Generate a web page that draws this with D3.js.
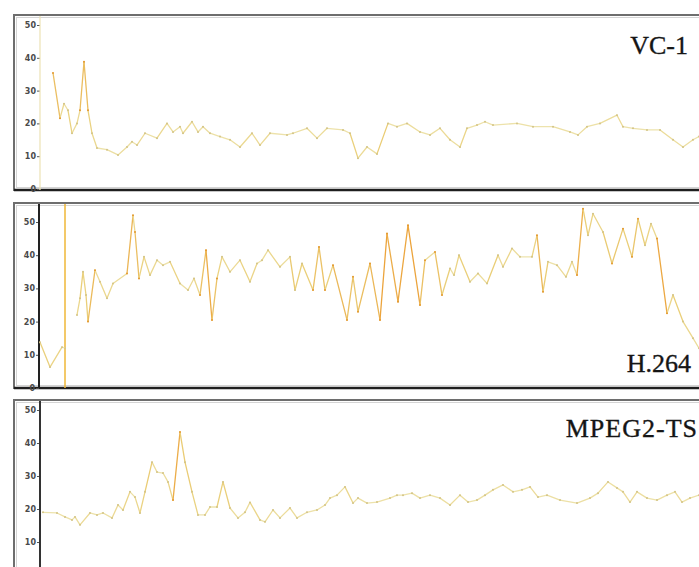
<!DOCTYPE html>
<html>
<head>
<meta charset="utf-8">
<script src="https://cdn.jsdelivr.net/npm/d3@7"></script>
<style>
  body { margin: 0; background: #fff; }
  svg { display: block; }
  .tick text { font-family: "DejaVu Sans", sans-serif; font-size: 8px; font-weight: bold; fill: #4a4a4a; }
  .tick line { stroke: #555; }
  .codec { font-family: "Liberation Serif", serif; font-size: 26px; fill: #151515; stroke: #151515; stroke-width: 0.35; }
</style>
</head>
<body>
<div id="chart"></div>
<script>
// [frame, bitrate]
const vc1 = [
  [13,35.4],[20,21.6],[24,26],[28,24],[32,17],[37,20],[40,24],[44,38.8],[48,24],[52,17],
  [57,12.5],[67,12],[78,10.4],[87,12.8],[92,14.4],[97,13.4],[105,17],[117,15.5],[127,20],[133,17.4],
  [140,19],[143,17],[152,20.5],[158,17.4],[163,19],[170,17],[180,16],[190,15],[200,12.8],[212,17],
  [220,13.4],[230,17],[247,16.5],[253,17],[267,18.5],[277,15.5],[287,18.5],[303,18],[310,17],[318,9.4],
  [327,12.8],[337,10.7],[348,20],[357,19],[367,20],[380,17.4],[390,16.5],[400,18.5],[410,15],[420,12.8],
  [427,18.5],[437,19.5],[445,20.5],[453,19.5],[477,20],[493,19],[513,19],[530,17.4],[538,16.5],[547,19],
  [560,20],[577,22.5],[583,19],[593,18.5],[607,18],[620,18],[633,15],[643,12.8],[653,15],[659,16]
];

const h264Start = [[0,13.8],[10,6.3],[22,12.3],[25,12]];
const h264Marker = 25;
const h264 = [
  [37,22],[40,27],[43,35],[46,28],[48,20],[55,35.5],[60,32],[67,27],[73,31.5],[87,34.5],
  [93,52],[95,47],[99,33],[104,39.5],[110,34],[117,38.5],[123,37],[130,38],[140,31.5],[148,29.5],
  [154,33],[160,28],[166,41.5],[172,20.5],[177,33],[182,39.5],[190,35],[200,38.5],[210,32],[217,37.5],
  [222,38.5],[228,41.5],[240,36.5],[250,39.5],[255,29.5],[262,37.5],[273,29.5],[279,42.5],[285,29.5],[293,37],
  [307,20.5],[313,33.5],[318,23],[330,37.5],[340,20.5],[347,46.5],[358,26],[368,49],[380,25],[385,38.5],
  [395,41],[402,28],[410,36],[414,34],[419,40],[430,32],[438,34.5],[447,31.5],[458,40],[463,36.5],
  [472,42],[480,39.5],[492,39.5],[497,46],[503,29],[508,38],[517,37],[526,33.5],[532,38],[537,34],
  [543,54],[548,46],[553,52.5],[563,47],[572,37.5],[583,48],[592,39.5],[598,51],[605,43],[611,49.5],
  [617,45],[627,22.5],[633,28],[643,20],[653,15],[659,12]
];

const mpeg2ts = [
  [3,19],[17,18.8],[25,17.6],[32,16.7],[35,17.6],[40,15.2],[50,18.8],[57,18.2],[63,18.8],[72,17.3],
  [78,21.2],[83,19.7],[90,25.2],[95,23.6],[100,18.8],[105,25.2],[112,34.2],[117,31.2],[123,30.9],[128,28.2],
  [133,22.7],[140,43.3],[145,34.2],[152,25.2],[158,18.2],[165,18.2],[170,20.6],[177,20.6],[183,28.2],[190,20.3],
  [198,17.3],[205,19],[210,22],[220,16.7],[225,16.1],[233,19.7],[240,17.3],[250,20.3],[257,17.3],[267,19],
  [277,19.7],[285,21.2],[290,23.3],[297,24.2],[305,26.7],[313,21.8],[318,23.3],[327,21.8],[337,22.1],[350,23.3],
  [357,24.2],[363,24.2],[372,24.8],[380,23.3],[390,24.2],[400,23.3],[410,21.2],[420,24.2],[428,22.1],[437,22.7],
  [445,24.2],[453,25.8],[463,27.3],[473,25.2],[482,25.8],[490,26.7],[498,23.6],[507,24.2],[520,22.7],[537,21.8],
  [550,23.3],[558,24.8],[568,28.2],[577,26.4],[583,25.2],[590,22.1],[597,25.2],[607,23.3],[617,22.7],[627,24.2],
  [635,25.2],[642,22.1],[650,23.3],[659,24.2]
];

const yTicks = [0, 10, 20, 30, 40, 50];
const codecs = ["VC-1", "H.264", "MPEG2-TS"];

const width = 699, height = 567;

const svg = d3.select("#chart")
    .append("svg")
    .attr("width", width)
    .attr("height", height);

const x = d3.scaleLinear().domain([0, 660]).range([40, 700]);

const panels = [
    {label: codecs[0], top: 15, bottom: 190, y0: 189, y50: 25, series: [vc1],
     axisColor: "#ece2b4", axisWidth: 1.2, axisX: 40, labelX: 688, labelY: 54, spacing: 0},
    {label: codecs[1], top: 203, bottom: 388, y0: 388, y50: 222, series: [h264Start, h264],
     axisColor: "#222", axisWidth: 2, axisX: 39, labelX: 691, labelY: 372, spacing: 0, marker: h264Marker},
    {label: codecs[2], top: 400, bottom: 586, y0: 575, y50: 410, series: [mpeg2ts],
     axisColor: "#333", axisWidth: 2, axisX: 40, labelX: 698, labelY: 437, spacing: 1}
];

// steeper jumps come out orange, flat stretches pale yellow
const segColor = d3.scaleLinear()
    .domain([0, 8, 24])
    .range(["#ede3ad", "#eacf79", "#eca43c"])
    .clamp(true);

panels.forEach(p => {
    const y = d3.scaleLinear().domain([0, 50]).range([p.y0, p.y50]);
    const g = svg.append("g");

    // frame
    g.append("rect")
        .attr("x", 14).attr("y", p.top)
        .attr("width", 700).attr("height", p.bottom - p.top)
        .attr("fill", "#fff")
        .attr("stroke", "#6e6e6e")
        .attr("stroke-width", 2);
    g.append("rect")
        .attr("x", 16.5).attr("y", p.top + 2.5)
        .attr("width", 700).attr("height", p.bottom - p.top - 5)
        .attr("fill", "none")
        .attr("stroke", "#d4d4d4")
        .attr("stroke-width", 1);
    g.append("line")
        .attr("x1", 14).attr("x2", 700)
        .attr("y1", p.bottom).attr("y2", p.bottom)
        .attr("stroke", "#1e1e1e")
        .attr("stroke-width", 2.5);

    // y axis, only ticks that land inside the window
    const ticks = yTicks.filter(t => y(t) < height - 6);
    const axis = g.append("g")
        .attr("transform", `translate(${p.axisX},0)`)
        .call(d3.axisLeft(y).tickValues(ticks).tickSize(3).tickSizeOuter(0).tickPadding(1));
    axis.select(".domain").remove();
    g.append("line")
        .attr("x1", p.axisX).attr("x2", p.axisX)
        .attr("y1", p.top + 1).attr("y2", p.bottom)
        .attr("stroke", p.axisColor)
        .attr("stroke-width", p.axisWidth);

    if (p.marker !== undefined) {
        g.append("line")
            .attr("x1", x(p.marker)).attr("x2", x(p.marker))
            .attr("y1", p.top + 1).attr("y2", p.bottom)
            .attr("stroke", "#efb737")
            .attr("stroke-width", 1.5);
    }

    // series, one segment per pair of samples
    p.series.forEach(s => {
        g.append("g")
            .selectAll("line")
            .data(d3.pairs(s))
            .join("line")
            .attr("x1", d => x(d[0][0]))
            .attr("y1", d => y(d[0][1]))
            .attr("x2", d => x(d[1][0]))
            .attr("y2", d => y(d[1][1]))
            .attr("stroke", d => segColor(Math.abs(d[1][1] - d[0][1])))
            .attr("stroke-width", 1.3)
            .attr("stroke-linecap", "round");

        g.append("g")
            .selectAll("circle")
            .data(s)
            .join("circle")
            .attr("cx", d => x(d[0]))
            .attr("cy", d => y(d[1]))
            .attr("r", 1)
            .attr("fill", (d, i) => {
                const prev = s[Math.max(0, i - 1)][1];
                const next = s[Math.min(s.length - 1, i + 1)][1];
                const jump = Math.max(Math.abs(d[1] - prev), Math.abs(d[1] - next));
                return jump > 10 ? "#e39a33" : "#d3c488";
            });
    });

    g.append("text")
        .attr("class", "codec")
        .attr("x", p.labelX)
        .attr("y", p.labelY)
        .attr("text-anchor", "end")
        .attr("letter-spacing", p.spacing)
        .text(p.label);
});
</script>
</body>
</html>
